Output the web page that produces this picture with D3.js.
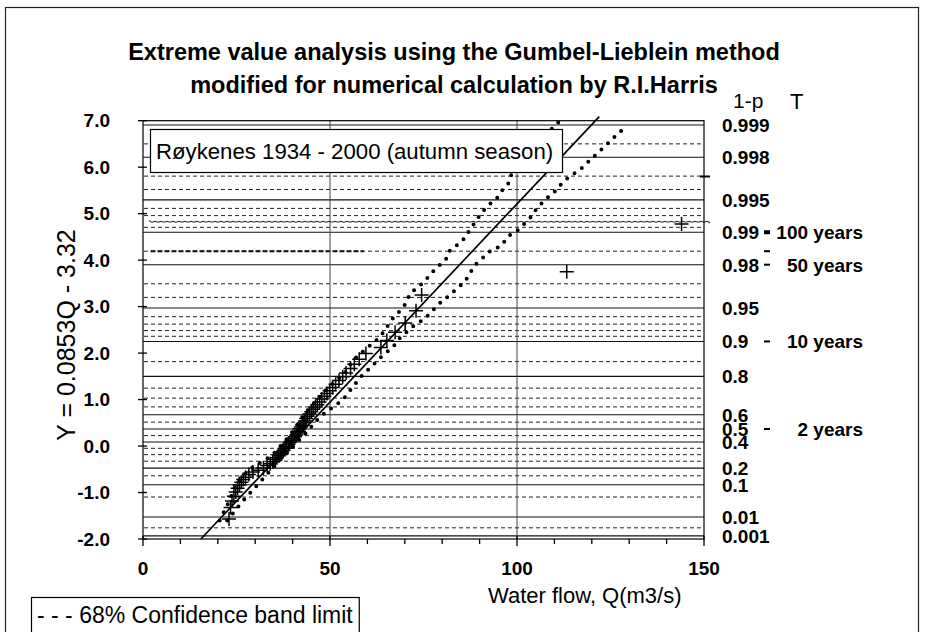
<!DOCTYPE html>
<html><head><meta charset="utf-8">
<script src="https://cdn.jsdelivr.net/npm/d3@7"></script>
<style>
body{margin:0;background:#fff}
svg{display:block}
text{font-family:"Liberation Sans",Arial,Helvetica,sans-serif;fill:#000}
</style>
</head><body>
<svg id="c" width="927" height="632"></svg>
<script>
// ---------------- data ----------------
const titleLines = ["Extreme value analysis using the Gumbel-Lieblein method",
                    "modified for numerical calculation by R.I.Harris"];
const stationLabel = "Røykenes 1934 - 2000 (autumn season)";
const legendLabel = "- - - 68% Confidence band limit";
const xTicks = [0, 50, 100, 150];
const yTicks = [-2, -1, 0, 1, 2, 3, 4, 5, 6, 7];
// labelled non-exceedance probabilities (right axis, solid grid lines)
const probLabels = ["0.999","0.998","0.995","0.99","0.98","0.95","0.9","0.8","0.6","0.5","0.4","0.2","0.1","0.01","0.001"];
// intermediate probabilities (dashed grid lines)
const probMinor = [0.9985,0.997,0.996,0.994,0.993,0.991,0.985,0.97,0.96,0.94,0.93,0.92,0.91,0.85,0.75,0.7,0.65,0.55,0.45,0.35,0.3,0.25,0.15,0.05,0.003];
const probWavy = [0.992];
const boldSegP = [0.985], boldSegQ = [2, 59];
// return periods
const returnP = [0.99, 0.98, 0.9, 0.5];
const returnLabels = ["100 years", "50 years", "10 years", "2 years"];
// observed flows (m3/s) and their reduced variates Y
const obsQ = [23.0,23.4,23.8,24.3,24.8,25.3,25.8,26.3,26.8,27.4,28.3,29.4,30.8,32.2,33.2,34.0,34.7,35.3,35.8,36.3,
  36.8,37.2,37.6,38.0,38.4,38.9,39.3,39.7,40.1,40.6,41.0,41.4,41.7,41.8,42.2,42.6,43.0,43.3,43.6,44.0,
  44.5,45.0,45.5,46.1,46.6,47.2,47.8,48.5,49.2,49.9,50.7,51.5,52.4,53.4,54.3,55.5,56.5,57.8,59.6,63.6,
  65.2,67.4,70.1,73.0,74.5,113.3,144.0];
const obsY = [-1.57,-1.32,-1.18,-1.08,-0.99,-0.91,-0.84,-0.78,-0.72,-0.67,-0.61,-0.56,-0.52,-0.47,-0.42,-0.38,-0.34,-0.29,-0.25,-0.21,
  -0.17,-0.13,-0.09,-0.05,-0.01,0.04,0.08,0.12,0.16,0.20,0.24,0.28,0.32,0.37,0.41,0.45,0.50,0.54,0.59,0.64,
  0.69,0.74,0.79,0.84,0.89,0.95,1.01,1.07,1.13,1.19,1.26,1.33,1.41,1.49,1.57,1.67,1.76,1.87,1.99,2.12,
  2.27,2.45,2.65,2.91,3.25,3.75,4.78];
// fitted line Y = 0.0853Q - 3.32
const fitSlope = 0.0853, fitIntercept = -3.32;
const fitQ = [15.47, 122.0];
// 68% confidence band limits
const upperQ = [20.5,23.0,25.0,28.5,34.5,39.0,42.5,46.5,50.0,53.6,56.2,60.2,63.4,65.2,66.9,69.7,71.5,74.9,77.5,81.3,82.1,85.3,88.3,90.1,91.9,94.6,95.9,98.1,98.9,104.0,108.0,111.5];
const upperY = [-1.6,-1.2,-0.8,-0.5,-0.2,0.2,0.6,1.0,1.3,1.53,1.85,2.13,2.35,2.56,2.76,2.99,3.29,3.51,3.75,4.05,4.22,4.40,4.76,4.97,5.15,5.33,5.49,5.69,6.01,6.40,6.72,7.0];
const lowerQ = [22.5,26.5,31.0,35.5,40.3,43.8,47.3,53.5,58.0,62.5,64.2,66.9,68.2,72.7,75.4,78.1,80.2,81.6,86.1,87.4,89.2,93.2,95.5,98.1,99.9,103.9,105.3,107.9,109.7,112.4,114.2,116.8,119.5,123.9,126.6,128.0];
const lowerY = [-1.6,-1.2,-0.8,-0.4,0.0,0.3,0.63,1.0,1.47,1.82,1.96,2.13,2.29,2.61,2.74,2.97,3.14,3.22,3.54,3.72,3.93,4.22,4.29,4.54,4.62,4.94,5.12,5.33,5.44,5.69,5.81,5.94,6.15,6.48,6.69,6.79];
const edgeMarkY = [5.8];

// ---------------- drawing ----------------
const svg = d3.select("#c");
const gumbel = p => -Math.log(-Math.log(p));
const x = d3.scaleLinear().domain([0, 150]).range([143, 704]);
const y = d3.scaleLinear().domain([-2, 7]).range([539, 120.7]);

svg.append("rect").attr("width", 927).attr("height", 632).attr("fill", "#fff");
// outer chart frame
svg.append("rect").attr("x", 5.5).attr("y", 7.5).attr("width", 913).attr("height", 660)
  .attr("fill", "none").attr("stroke", "#222").attr("stroke-width", 1.2);

// title
svg.selectAll("text.title").data(titleLines).join("text").attr("class", "title")
  .attr("x", 454).attr("y", (d, i) => 60 + i * 33)
  .attr("text-anchor", "middle").attr("font-weight", "bold").attr("font-size", 23.5)
  .text(d => d);

const g = svg.append("g");
// grid lines
g.selectAll("line.gmin").data(probMinor).join("line").attr("class", "gmin")
  .attr("x1", x(0) + 1).attr("x2", x(150)).attr("y1", d => y(gumbel(d))).attr("y2", d => y(gumbel(d)))
  .attr("stroke", "#222").attr("stroke-width", 1).attr("stroke-dasharray", "4,3");
g.selectAll("line.gbold").data(boldSegP).join("line").attr("class", "gbold")
  .attr("x1", x(boldSegQ[0])).attr("x2", x(boldSegQ[1])).attr("y1", d => y(gumbel(d))).attr("y2", d => y(gumbel(d)))
  .attr("stroke", "#111").attr("stroke-width", 2).attr("stroke-dasharray", "5,2");
// wavy grid line
probWavy.forEach(p => {
  const yy = y(gumbel(p));
  const pts = d3.range(x(0) + 6, x(150) + 8, 3).map((px, i) => [px, yy + (i % 2 ? 1.3 : -1.3)]);
  g.append("path").attr("d", d3.line().curve(d3.curveBasis)(pts))
    .attr("fill", "none").attr("stroke", "#333").attr("stroke-width", 1.1);
});
g.selectAll("line.gmaj").data(probLabels).join("line").attr("class", "gmaj")
  .attr("x1", x(0)).attr("x2", x(150)).attr("y1", d => y(gumbel(+d))).attr("y2", d => y(gumbel(+d)))
  .attr("stroke", "#111").attr("stroke-width", 1.1);
// vertical grid
g.selectAll("line.vg").data(xTicks.slice(1, 3)).join("line").attr("class", "vg")
  .attr("x1", d => x(d)).attr("x2", d => x(d)).attr("y1", y(7)).attr("y2", y(-2))
  .attr("stroke", "#444").attr("stroke-width", 1);
// plot frame
g.append("rect").attr("x", x(0)).attr("y", y(7)).attr("width", x(150) - x(0)).attr("height", y(-2) - y(7))
  .attr("fill", "none").attr("stroke", "#000").attr("stroke-width", 1.2);

// axes ticks
g.selectAll("line.yt").data(yTicks).join("line").attr("class", "yt")
  .attr("x1", x(0) - 5).attr("x2", x(0) + 4).attr("y1", d => y(d)).attr("y2", d => y(d))
  .attr("stroke", "#000").attr("stroke-width", 1.3);
g.selectAll("line.xt").data(d3.range(0, 151, 10)).join("line").attr("class", "xt")
  .attr("x1", d => x(d)).attr("x2", d => x(d))
  .attr("y1", d => y(-2) - (d % 50 === 0 ? 3 : 0)).attr("y2", d => y(-2) + (d % 50 === 0 ? 7 : 5))
  .attr("stroke", "#000").attr("stroke-width", 1.3);
g.selectAll("text.yl").data(yTicks).join("text").attr("class", "yl")
  .attr("x", 110).attr("y", d => y(d)).attr("dy", "0.35em").attr("text-anchor", "end")
  .attr("font-weight", "bold").attr("font-size", 19).text(d => d.toFixed(1));
g.selectAll("text.xl").data(xTicks).join("text").attr("class", "xl")
  .attr("x", d => x(d)).attr("y", 575).attr("text-anchor", "middle")
  .attr("font-weight", "bold").attr("font-size", 19).text(d => d);

// axis titles
svg.append("text").attr("transform", "translate(75,335) rotate(-90)").attr("text-anchor", "middle")
  .attr("font-size", 25).text("Y = 0.0853Q - 3.32");
svg.append("text").attr("x", 488).attr("y", 603)
  .attr("font-size", 22).text("Water flow, Q(m3/s)");

// right axis: probabilities and return periods
svg.append("text").attr("x", 733).attr("y", 108).attr("font-size", 21).text("1-p");
svg.append("text").attr("x", 790).attr("y", 109).attr("font-size", 22).text("T");
svg.selectAll("text.pl").data(probLabels).join("text").attr("class", "pl")
  .attr("x", 722).attr("y", d => y(gumbel(+d))).attr("dy", "0.36em")
  .attr("font-weight", "bold").attr("font-size", 19).text(d => d);
svg.selectAll("text.tl").data(returnP).join("text").attr("class", "tl")
  .attr("x", 863).attr("y", d => y(gumbel(d))).attr("dy", "0.36em").attr("text-anchor", "end")
  .attr("font-weight", "bold").attr("font-size", 19).text((d, i) => returnLabels[i]);
svg.selectAll("line.td").data(returnP.concat([0.985])).join("line").attr("class", "td")
  .attr("x1", 764).attr("x2", 770).attr("y1", d => y(gumbel(d))).attr("y2", d => y(gumbel(d)))
  .attr("stroke", "#000").attr("stroke-width", (d) => d === 0.99 ? 4 : 2);

// fitted line
g.append("line")
  .attr("x1", x(fitQ[0])).attr("y1", y(fitSlope * fitQ[0] + fitIntercept))
  .attr("x2", x(fitQ[1])).attr("y2", y(fitSlope * fitQ[1] + fitIntercept))
  .attr("stroke", "#000").attr("stroke-width", 1.7);

// confidence bands
const band = d3.line().x(d => x(d[0])).y(d => y(d[1]));
[[upperQ, upperY], [lowerQ, lowerY]].forEach(([qs, ys]) => {
  g.append("path").attr("d", band(qs.map((q, i) => [q, ys[i]])))
    .attr("fill", "none").attr("stroke", "#000").attr("stroke-width", 4)
    .attr("stroke-linecap", "round").attr("stroke-dasharray", "0,9");
});

// observations
g.selectAll("path.obs").data(obsQ).join("path").attr("class", "obs")
  .attr("transform", (d, i) => `translate(${x(d)},${y(obsY[i])})`)
  .attr("d", "M-7,0H7M0,-7V7").attr("stroke", "#000").attr("stroke-width", 1.5).attr("fill", "none");
g.selectAll("line.em").data(edgeMarkY).join("line").attr("class", "em")
  .attr("x1", x(150) - 4).attr("x2", x(150) + 6).attr("y1", d => y(d)).attr("y2", d => y(d))
  .attr("stroke", "#000").attr("stroke-width", 2);

// station label box
const sb = svg.append("g");
sb.append("rect").attr("x", 150.5).attr("y", 129.5).attr("width", 412).attr("height", 43)
  .attr("fill", "#fff").attr("stroke", "#000").attr("stroke-width", 1.2);
sb.append("text").attr("x", 156).attr("y", 159).attr("font-size", 22.2).text(stationLabel);

// legend box
const lb = svg.append("g");
const lt = lb.append("text").attr("x", 37).attr("y", 623).attr("font-size", 23).text(legendLabel);
const bw = lt.node().getComputedTextLength();
lb.insert("rect", "text").attr("x", 31.5).attr("y", 597.5).attr("width", bw + 12).attr("height", 40)
  .attr("fill", "#fff").attr("stroke", "#000").attr("stroke-width", 1.2);
</script>
</body></html>
